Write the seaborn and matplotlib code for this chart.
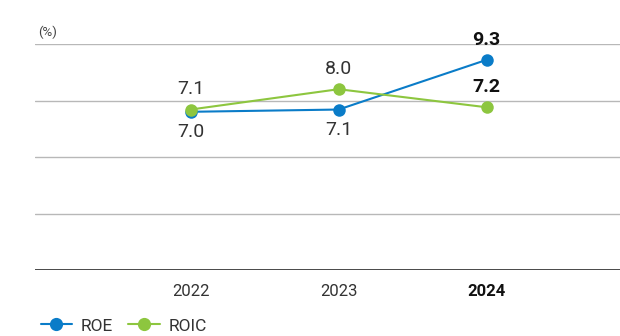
import matplotlib
matplotlib.use("Agg")
import matplotlib.pyplot as plt
import seaborn as sns
import pandas as pd
from matplotlib.lines import Line2D

years = ["2022", "2023", "2024"]
roe = [7.0, 7.1, 9.3]
roic = [7.1, 8.0, 7.2]
series_names = ["ROE", "ROIC"]
colors = {"ROE": "#0a7cc8", "ROIC": "#8dc63f"}

sns.set_theme(style="white")
plt.rcParams["font.family"] = ["Roboto", "DejaVu Sans"]

df = pd.DataFrame({
    "year": list(range(len(years))) * 2,
    "value": roe + roic,
    "series": ["ROE"] * len(years) + ["ROIC"] * len(years),
})

fig = plt.figure(figsize=(6.2, 3.36), dpi=100)
ax = fig.add_axes([35 / 620, 66 / 336, 1 - 35 / 620, 226 / 336])

sns.lineplot(data=df, x="year", y="value", hue="series", palette=colors,
             marker="o", markersize=9, markeredgewidth=0, linewidth=1.5,
             ax=ax, legend=False, zorder=3)

ax.set_ylim(0, 10)
ax.set_xlim(-1.05, 2.9)
for y in [2.5, 5, 7.5, 10]:
    ax.axhline(y, color="#b8b8b8", linewidth=1, zorder=1)
ax.axhline(0, color="#2a2a2a", linewidth=1.2, zorder=2)
for s in ax.spines.values():
    s.set_visible(False)
ax.set_yticks([])
ax.set_xticks(range(len(years)))
ax.set_xticklabels(years)
ax.tick_params(axis="x", length=0, pad=10, labelsize=12, labelcolor="#333333")
ax.get_xticklabels()[-1].set_fontweight("bold")
ax.get_xticklabels()[-1].set_color("#111111")
ax.set_xlabel("")
ax.set_ylabel("")

last = len(years) - 1
# ROE labels sit below the line except for the latest year
for i, v in enumerate(roe):
    bold = i == last
    above = i == last
    ax.annotate(f"{v:.1f}", (i, v), xytext=(0, 8 if above else -8),
                textcoords="offset points", ha="center",
                va="bottom" if above else "top", fontsize=14,
                fontweight="bold" if bold else "normal",
                color="#111111" if bold else "#333333")
for i, v in enumerate(roic):
    bold = i == last
    ax.annotate(f"{v:.1f}", (i, v), xytext=(0, 8),
                textcoords="offset points", ha="center", va="bottom",
                fontsize=14, fontweight="bold" if bold else "normal",
                color="#111111" if bold else "#333333")

fig.text(38 / 620, 1 - 32 / 336, "(%)", fontsize=9.5, color="#444444",
         va="center", ha="left")

handles = [Line2D([0], [0], color=colors[n], marker="o", markersize=9.5,
                  markeredgewidth=0, linewidth=1.5) for n in series_names]
fig.legend(handles, series_names, loc="center left",
           bbox_to_anchor=(25 / 620, 1 - 326 / 336), ncol=2, frameon=False,
           fontsize=12.5, handlelength=1.8, handletextpad=0.5,
           columnspacing=0.9, labelcolor="#333333")

fig.savefig("out.png", dpi=100)
